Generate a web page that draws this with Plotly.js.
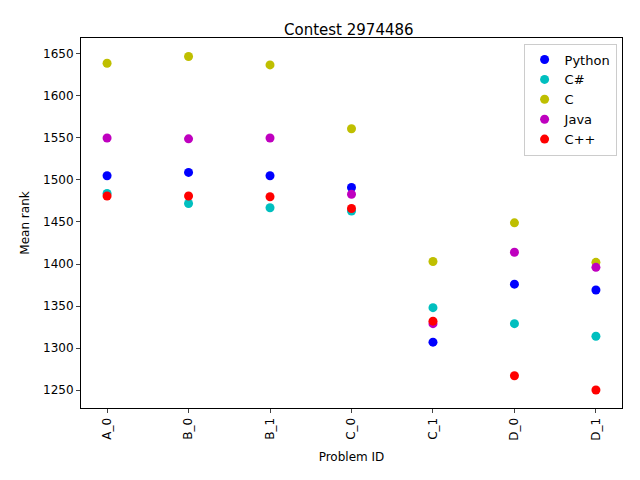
<!DOCTYPE html>
<html>
<head>
<script src="https://cdn.plot.ly/plotly-3.0.1.min.js"></script>
<style>body{margin:0}</style>
</head>
<body>
<div id="plot" style="width:640px;height:480px"></div>
<script>
const problems = ['A_0', 'B_0', 'B_1', 'C_0', 'C_1', 'D_0', 'D_1'];
const python_rank = [1505, 1509, 1505, 1491, 1307, 1376, 1369];
const csharp_rank = [1484, 1472, 1467, 1463, 1348, 1329, 1314];
const c_rank = [1639, 1647, 1637, 1561, 1403, 1449, 1402];
const java_rank = [1550, 1549, 1550, 1483, 1329, 1414, 1396];
const cpp_rank = [1481, 1481, 1480, 1466, 1332, 1267, 1250];

const names = ['Python', 'C#', 'C', 'Java', 'C++'];
const colors = ['#0000ff', '#00bfbf', '#bfbf00', '#bf00bf', '#ff0000'];
const series = [python_rank, csharp_rank, c_rank, java_rank, cpp_rank];

let traces = [];
for (let i = 0; i < series.length; i++) {
  traces.push({
    x: problems.map((p, k) => k),
    y: series[i],
    name: names[i],
    type: 'scatter',
    mode: 'markers',
    marker: {color: colors[i], size: 9}
  });
}

const axisStyle = {
  showgrid: false, zeroline: false, showline: true, mirror: true,
  linecolor: 'black', linewidth: 1, ticks: 'outside', ticklen: 4,
  tickfont: {size: 12, color: 'black'}
};

const layout = {
  width: 640, height: 480,
  margin: {l: 81, r: 18, t: 38, b: 72},
  paper_bgcolor: 'white', plot_bgcolor: 'white',
  font: {family: 'DejaVu Sans', color: 'black'},
  title: {text: 'Contest 2974486', font: {size: 15}, x: 0.545, xanchor: 'center', y: 0.95},
  xaxis: Object.assign({}, axisStyle, {
    range: [-0.32, 6.32], tickvals: [0, 1, 2, 3, 4, 5, 6], ticktext: problems,
    tickangle: -90,
    title: {text: 'Problem ID', font: {size: 12}, standoff: 12}
  }),
  yaxis: Object.assign({}, axisStyle, {
    range: [1228.6, 1669], dtick: 50,
    title: {text: 'Mean rank', font: {size: 12}, standoff: 10}
  }),
  showlegend: true,
  legend: {
    x: 0.99, y: 0.985, xanchor: 'right', yanchor: 'top',
    bordercolor: '#cccccc', borderwidth: 1, bgcolor: 'rgba(255,255,255,0.8)',
    font: {size: 13}
  }
};

Plotly.newPlot('plot', traces, layout, {displayModeBar: false});
</script>
</body>
</html>
